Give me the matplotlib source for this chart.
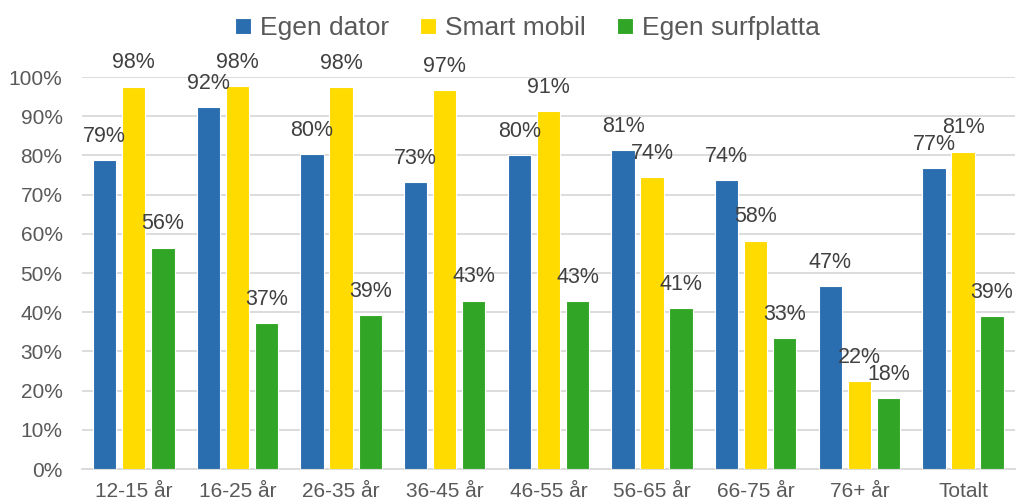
import numpy as np
import matplotlib
matplotlib.use("Agg")
from matplotlib import pyplot as plt
from matplotlib.ticker import PercentFormatter

plt.rcParams['font.family'] = ['Liberation Sans', 'DejaVu Sans']

categories = ['12-15 år', '16-25 år', '26-35 år', '36-45 år', '46-55 år',
              '56-65 år', '66-75 år', '76+ år', 'Totalt']
egen_dator = [78.8, 92.4, 80.3, 73.3, 80.2, 81.3, 73.7, 46.6, 76.7]
smart_mobil = [97.6, 97.7, 97.5, 96.7, 91.3, 74.5, 58.3, 22.5, 81.0]
egen_surfplatta = [56.5, 37.2, 39.2, 43.0, 42.8, 41.0, 33.5, 18.0, 39.0]
labels_dator = ['79%', '92%', '80%', '73%', '80%', '81%', '74%', '47%', '77%']
labels_mobil = ['98%', '98%', '98%', '97%', '91%', '74%', '58%', '22%', '81%']
labels_surf = ['56%', '37%', '39%', '43%', '43%', '41%', '33%', '18%', '39%']

series = [
    ('Egen dator', egen_dator, labels_dator, '#2A6EB0'),
    ('Smart mobil', smart_mobil, labels_mobil, '#FFDB00'),
    ('Egen surfplatta', egen_surfplatta, labels_surf, '#31A526'),
]

fig = plt.figure(figsize=(10.2, 5.04), dpi=100)
ax = fig.add_axes([0.0804, 0.0694, 0.9146, 0.7776])

x = np.arange(len(categories))
width = 0.225
step = 0.28
for i, (name, vals, labs, color) in enumerate(series):
    xs = x + (i - 1) * step
    ax.bar(xs, vals, width, color=color, edgecolor='white', linewidth=0.8,
           label=name, zorder=3)
    for xi, v, lab in zip(xs, vals, labs):
        ax.annotate(lab, (xi, v), xytext=(0, 17), textcoords='offset points',
                    ha='center', va='center', fontsize=15.5, color='#404040',
                    annotation_clip=False, zorder=4)

ax.set_xlim(-0.5, len(categories) - 0.5)
ax.set_ylim(0, 100)
ax.set_yticks(np.arange(0, 101, 10))
ax.yaxis.set_major_formatter(PercentFormatter(100, decimals=0))
ax.set_xticks(x)
ax.set_xticklabels(categories)
ax.tick_params(axis='both', length=0, labelsize=15, labelcolor='#595959')
ax.tick_params(axis='y', pad=14)
ax.tick_params(axis='x', pad=9)
ax.grid(axis='y', color='#D9D9D9', linewidth=1.3, zorder=0)
for side in ['top', 'right', 'left']:
    ax.spines[side].set_visible(False)
ax.spines['bottom'].set_color('#D9D9D9')
ax.spines['bottom'].set_linewidth(1.3)

fig.legend(loc='upper center', bbox_to_anchor=(0.517, 1.015), ncol=3,
           frameon=False, fontsize=19, labelcolor='#595959',
           handlelength=0.6, handleheight=0.6, handletextpad=0.35,
           columnspacing=1.18)

fig.savefig('out.png', dpi=100)
